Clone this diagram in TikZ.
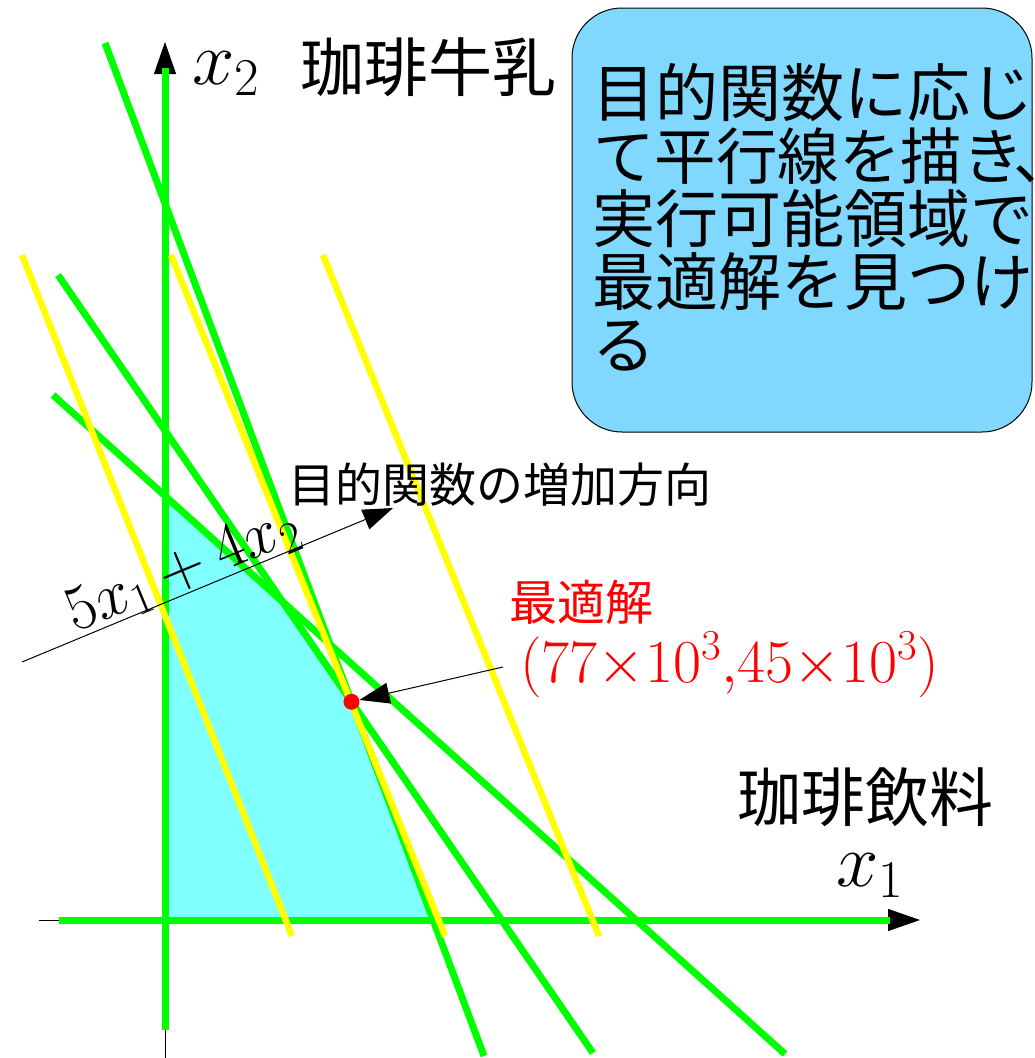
\RequirePackage{fix-cm}
\documentclass[tikz,border=0pt]{standalone}
\usepackage{fontspec}
\newfontfamily\jp{Noto Sans CJK JP}
\usetikzlibrary{arrows.meta,intersections}
\definecolor{lgreen}{RGB}{0,255,0}
\definecolor{lyellow}{RGB}{255,255,0}
\definecolor{feas}{RGB}{128,255,255}
\definecolor{boxblue}{RGB}{128,216,255}
\begin{document}
\begin{tikzpicture}[x=1pt,y=-1pt,
  gline/.style={draw=lgreen,line width=7pt},
  yline/.style={draw=lyellow,line width=6.5pt},
  thinline/.style={draw=black,line width=1pt},
  axisarrow/.style={thinline,-{Triangle[length=32pt,width=22pt]}},
  ptr/.style={thinline,-{Triangle[length=30pt,width=21pt]}},
  jplabel/.style={font=\jp,inner sep=0pt,anchor=base west},
  mlabel/.style={inner sep=0pt,anchor=base west},
  boxline/.style={jplabel,font=\jp\fontsize{63}{63}\selectfont},
]
\useasboundingbox (0,0) rectangle (1034,1058);

% end points
\coordinate (g1a) at (105,43);  \coordinate (g1b) at (484,1056);
\coordinate (g2a) at (58,275);  \coordinate (g2b) at (593,1053);
\coordinate (g3a) at (53,395);  \coordinate (g3b) at (785,1054);
\coordinate (xga) at (59,920);  \coordinate (xgb) at (890,920);
\coordinate (yga) at (165,1030); \coordinate (ygb) at (165,68);
\coordinate (y1a) at (22,255);  \coordinate (y1b) at (292,936);
\coordinate (y2a) at (171,255); \coordinate (y2b) at (445,936);
\coordinate (y3a) at (323,255); \coordinate (y3b) at (599,936);
\coordinate (O) at (165,920);

\path[name path=G1] (g1a) -- (g1b);
\path[name path=G2] (g2a) -- (g2b);
\path[name path=G3] (g3a) -- (g3b);
\path[name path=XA] (xga) -- (xgb);
\path[name path=YA] (yga) -- (ygb);
\path[name intersections={of=G1 and G2,by=P12}];
\path[name intersections={of=G2 and G3,by=P23}];
\path[name intersections={of=G3 and YA,by=P3Y}];
\path[name intersections={of=G1 and XA,by=P1X}];

% thin black axes with arrows
\coordinate (xs) at (39,920);  \coordinate (xe) at (920,920);
\coordinate (ys) at (165,1058); \coordinate (ye) at (165,42);
\draw[axisarrow] (xs) -- (xe);
\draw[axisarrow] (ys) -- (ye);

% feasible region
\fill[feas] (P3Y) -- (P23) -- (P12) -- (P1X) -- (O) -- cycle;

% green lines
\draw[gline] (xga) -- (xgb);
\draw[gline] (yga) -- (ygb);
\draw[gline] (g1a) -- (g1b);
\draw[gline] (g2a) -- (g2b);
\draw[gline] (g3a) -- (g3b);

% yellow lines
\draw[yline] (y1a) -- (y1b);
\draw[yline] (y2a) -- (y2b);
\draw[yline] (y3a) -- (y3b);

% optimum
\node[circle,fill=red,minimum size=16pt,inner sep=0pt] (opt) at (P12) {};
\coordinate (optfrom) at (503,667);
\draw[ptr] (optfrom) -- (opt);

% objective direction arrow
\coordinate (da) at (22,662); \coordinate (db) at (393,508);
\draw[ptr] (da) -- (db);
\node[mlabel,rotate=22.54,font=\fontsize{64}{70}\selectfont] (obj) at (75,633) {$5x_1+4x_2$};
\node[jplabel,font=\jp\fontsize{47}{50}\selectfont] (dir) at (288,502) {目的関数の増加方向};

% axis labels
\node[mlabel,font=\fontsize{76}{80}\selectfont] (x2) at (192,84) {$x_2$};
\node[jplabel,font=\jp\fontsize{64}{66}\selectfont] (milk) at (300,91) {珈琲牛乳};
\node[mlabel,font=\fontsize{76}{80}\selectfont] (x1) at (836,886) {$x_1$};
\node[jplabel,font=\jp\fontsize{64}{66}\selectfont] (drink) at (737,821) {珈琲飲料};

% optimum labels
\node[jplabel,text=red,font=\jp\fontsize{48}{50}\selectfont] (optname) at (509,620) {最適解};
\node[mlabel,text=red,font=\fontsize{61}{64}\selectfont] (optval) at (520,682) {$(77{\times}10^3{,}45{\times}10^3)$};

% explanation box
\node[draw=black,line width=1pt,fill=boxblue,rounded corners=50pt,minimum width=460pt,minimum height=424pt,inner sep=0pt] (box) at (802,220) {};
\node[boxline] (l1) at (592,116) {目的関数に応じ};
\node[boxline,font=\jp\fontsize{61.5}{63}\selectfont] (l2) at (593,179) {て平行線を描き\kern-10pt 、};
\node[boxline] (l3) at (592,242) {実行可能領域で};
\node[boxline] (l4) at (592,305) {最適解を見つけ};
\node[boxline] (l5) at (592,368) {る};
\end{tikzpicture}
\end{document}
